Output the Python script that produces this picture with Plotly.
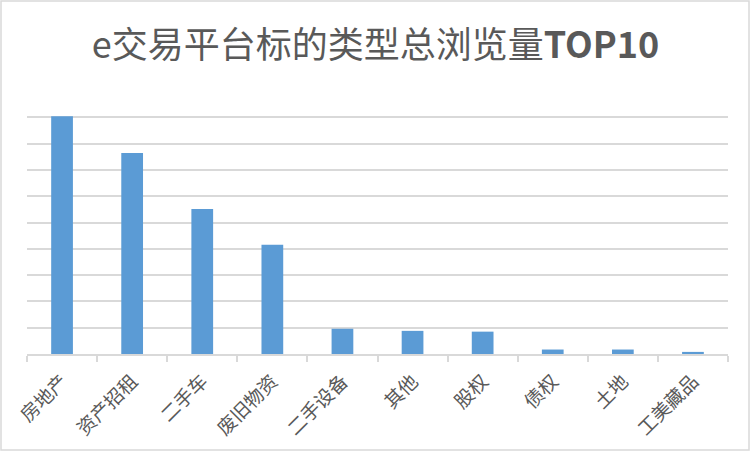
import plotly.graph_objects as go

# 类型与浏览量(读图估计,单位未知)
categories = ['房地产', '资产招租', '二手车', '废旧物资', '二手设备', '其他', '股权', '债权', '土地', '工美藏品']
views = [9.04, 7.64, 5.51, 4.15, 0.96, 0.88, 0.85, 0.17, 0.17, 0.08]

W, H = 751, 452
ml, mr, mt, mb = 27, 23, 91, 98
pw, ph = W - ml - mr, H - mt - mb

fig = go.Figure(go.Bar(
    x=categories,
    y=views,
    marker=dict(color='#5B9BD5', line=dict(width=0)),
))

fig.update_layout(
    width=W, height=H,
    margin=dict(l=ml, r=mr, t=mt, b=mb, autoexpand=False),
    paper_bgcolor='white', plot_bgcolor='white',
    bargap=0.69,
    showlegend=False,
    title=dict(
        text='e交易平台标的类型总浏览量<b>TOP10</b>',
        x=0.5, xanchor='center', y=1 - 45 / H, yanchor='middle',
        font=dict(family='Noto Sans CJK SC', size=36, color='#595959'),
    ),
    font=dict(family='Noto Sans CJK SC', color='#595959'),
)

fig.update_xaxes(
    type='category', automargin=False,
    showline=True, linecolor='#d9d9d9', linewidth=1.5,
    ticks='outside', tickson='boundaries', ticklen=6, tickcolor='#d9d9d9', tickwidth=1.5,
    tickangle=-45, ticklabelstandoff=7,
    tickfont=dict(family='Noto Sans CJK SC', size=19, color='#595959'),
    showgrid=False,
)

fig.update_yaxes(
    range=[0, 10], dtick=1, automargin=False,
    showgrid=True, gridcolor='#d9d9d9', gridwidth=1.5,
    showticklabels=False, zeroline=False,
)

# 外框
fig.add_shape(
    type='rect', xref='paper', yref='paper',
    x0=(1 - ml) / pw, x1=(W - 2 - ml) / pw,
    y0=(mt + ph - (H - 2)) / ph, y1=(mt + ph - 1) / ph,
    line=dict(color='#d9d9d9', width=1.5), layer='below',
)

# 去掉页面默认边距
fig.write_html("out.html", config={'displayModeBar': False},
               post_script="document.body.style.margin='0';")
